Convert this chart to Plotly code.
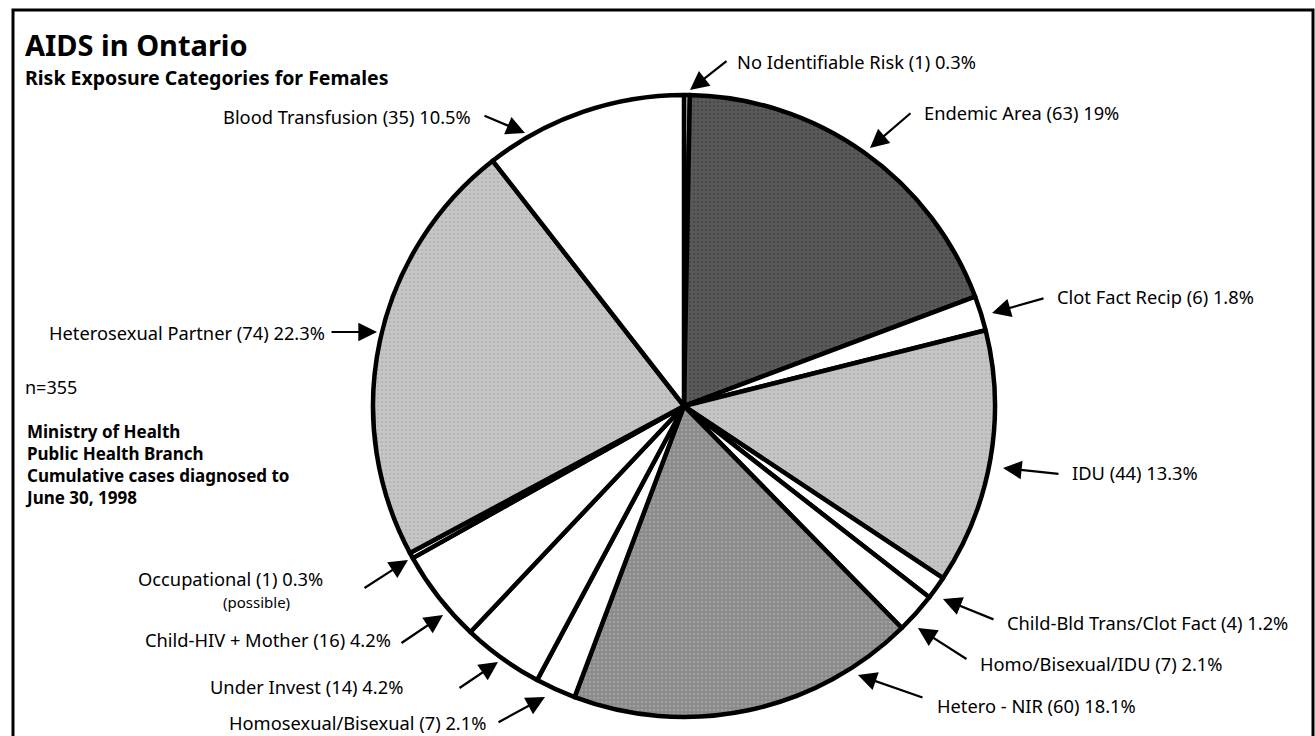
import plotly.graph_objects as go

W, H = 1315, 736

# ---- data ----
categories = [
    "No Identifiable Risk", "Endemic Area", "Clot Fact Recip", "IDU",
    "Child-Bld Trans/Clot Fact", "Homo/Bisexual/IDU", "Hetero - NIR",
    "Homosexual/Bisexual", "Under Invest", "Child-HIV + Mother",
    "Occupational", "Heterosexual Partner", "Blood Transfusion",
]
cases = [1, 63, 6, 44, 4, 7, 60, 7, 14, 16, 1, 74, 35]
percent_labels = ["0.3%", "19%", "1.8%", "13.3%", "1.2%", "2.1%", "18.1%",
                  "2.1%", "4.2%", "4.2%", "0.3%", "22.3%", "10.5%"]
fill_colors = ["#ffffff", "#5a5a5a", "#ffffff", "#c6c6c6", "#ffffff", "#ffffff",
               "#8a8a8a", "#ffffff", "#ffffff", "#ffffff", "#ffffff", "#c6c6c6",
               "#ffffff"]
pattern_fg = ["#ffffff", "#383838", "#ffffff", "#a6a6a6", "#ffffff", "#ffffff",
              "#b4b4b4", "#ffffff", "#ffffff", "#ffffff", "#ffffff", "#a6a6a6",
              "#ffffff"]
pattern_shape = ["", ".", "", ".", "", "", ".", "", "", "", "", ".", ""]

# ---- layout helpers (pixels -> paper) ----
def X(px):
    return px / W

def Y(py):
    return 1 - py / H

cx, cy, R = 684, 406, 311

fig = go.Figure()
fig.add_trace(go.Pie(
    labels=categories, values=cases, sort=False, direction="clockwise",
    rotation=0, textinfo="none", hoverinfo="label+value+percent",
    marker=dict(colors=fill_colors, line=dict(color="black", width=4.5),
                pattern=dict(shape=pattern_shape, fgcolor=pattern_fg,
                             bgcolor=fill_colors, size=4, solidity=0.35,
                             fillmode="overlay")),
    domain=dict(x=[X(cx - R), X(cx + R)], y=[Y(cy + R), Y(cy - R)]),
    showlegend=False,
))

FONT = "Noto Sans"
LBL = 18.3

# label placement: (text x, text y, anchor, arrow tail x, tail y, tip x, tip y)
placements = [
    (735, 62, "left", 728, 60, 690, 90),
    (922, 112, "left", 912, 112, 870, 148),
    (1055, 297, "left", 1045, 298, 992, 313),
    (1070, 472, "left", 1060, 474, 1003, 468),
    (1005, 622, "left", 995, 620, 943, 599),
    (978, 663, "left", 968, 660, 918, 628),
    (935, 705, "left", 924, 698, 858, 675),
    (488, 722, "right", 497, 723, 545, 697),
    (405, 686, "right", 458, 689, 498, 662),
    (393, 639, "right", 400, 644, 443, 615),
    (325, 578, "right", 363, 589, 408, 560),
    (327, 332, "right", 330, 332, 377, 332),
    (473, 116, "right", 483, 115, 525, 133),
]

annotations = []
for cat, n, pct, (tx, ty, anc, ax, ay, px, py) in zip(categories, cases, percent_labels, placements):
    annotations.append(dict(
        x=X(tx), y=Y(ty), xref="paper", yref="paper", xanchor=anc, yanchor="middle",
        text=f"{cat} ({n}) {pct}", showarrow=False,
        font=dict(family=FONT, size=LBL, color="black"),
    ))
    annotations.append(dict(
        x=X(px), y=Y(py), xref="paper", yref="paper", text="",
        showarrow=True, ax=ax - px, ay=ay - py, arrowhead=2, arrowsize=1.7,
        arrowwidth=2.2, arrowcolor="black", standoff=0, startstandoff=0,
    ))

annotations.append(dict(x=X(292), y=Y(602), xref="paper", yref="paper", xanchor="right",
                        yanchor="middle", text="(possible)", showarrow=False,
                        font=dict(family=FONT, size=15, color="black")))

annotations += [
    dict(x=X(23), y=Y(44), xref="paper", yref="paper", xanchor="left", yanchor="middle",
         text="<b>AIDS in Ontario</b>", showarrow=False,
         font=dict(family=FONT, size=29, color="black")),
    dict(x=X(23), y=Y(77), xref="paper", yref="paper", xanchor="left", yanchor="middle",
         text="<b>Risk Exposure Categories for Females</b>", showarrow=False,
         font=dict(family=FONT, size=19.5, color="black")),
    dict(x=X(23), y=Y(387), xref="paper", yref="paper", xanchor="left", yanchor="middle",
         text="n=355", showarrow=False, font=dict(family=FONT, size=18, color="black")),
    dict(x=X(23), y=Y(465), xref="paper", yref="paper", xanchor="left", yanchor="middle",
         align="left",
         text="<b>Ministry of Health<br>Public Health Branch<br>Cumulative cases diagnosed to<br>June 30, 1998</b>",
         showarrow=False, font=dict(family=FONT, size=17, color="black")),
]

fig.update_layout(
    width=W, height=H, autosize=False,
    margin=dict(l=0, r=0, t=0, b=0),
    paper_bgcolor="white", plot_bgcolor="white",
    annotations=annotations,
    shapes=[dict(type="rect", xref="paper", yref="paper",
                 x0=X(13), x1=X(1313), y0=Y(760), y1=Y(10),
                 line=dict(color="black", width=3), fillcolor="rgba(0,0,0,0)")],
)

fig.write_html("out.html", config={"displayModeBar": False},
               post_script="document.body.style.margin='0';document.body.style.padding='0';")
